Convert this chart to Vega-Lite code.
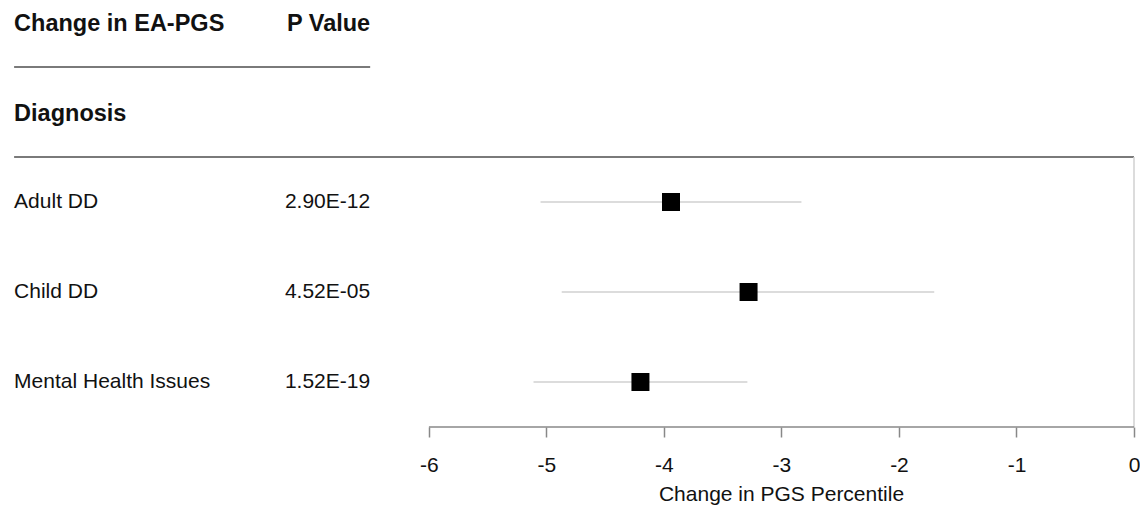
{
  "$schema": "https://vega.github.io/schema/vega-lite/v6.json",
  "width": 1134,
  "height": 427,
  "autosize": {"type": "none"},
  "padding": {"left": 0, "top": 0, "right": 6, "bottom": 104},
  "background": "white",
  "config": {"view": {"stroke": null}, "font": "Liberation Sans", "text": {"font": "Liberation Sans"}},
  "datasets": {
    "rows": [
      {"label": "Adult DD", "p": "2.90E-12", "est": -3.94, "lo": -5.05, "hi": -2.83},
      {"label": "Child DD", "p": "4.52E-05", "est": -3.28, "lo": -4.87, "hi": -1.70},
      {"label": "Mental Health Issues", "p": "1.52E-19", "est": -4.20, "lo": -5.11, "hi": -3.29}
    ],
    "head": [{"title": "Change in EA-PGS", "pcol": "P Value", "section": "Diagnosis"}]
  },
  "layer": [
    {
      "data": {"name": "rows"},
      "mark": {"type": "rule", "color": "#dcdcdc", "strokeWidth": 2},
      "encoding": {
        "x": {"field": "lo", "type": "quantitative", "scale": {"domain": [-9.65, 0], "nice": false, "zero": false},
          "axis": {"values": [-6, -5, -4, -3, -2, -1, 0], "domain": false, "grid": false, "tickColor": "#888888", "tickWidth": 1.5, "tickSize": 10,
            "labelFontSize": 21, "labelColor": "#111111", "labelPadding": 17, "labelFlush": false, "labelOverlap": false, "labelExpr": "'' + datum.value", "labelFont": "Liberation Sans",
            "title": "Change in PGS Percentile", "titleFontSize": 21, "titleFontWeight": "normal", "titleColor": "#111111", "titleFont": "Liberation Sans",
            "titleX": 781, "titleY": 56, "titleAlign": "center", "titleBaseline": "top", "titleAnchor": null}},
        "x2": {"field": "hi"},
        "y": {"field": "label", "type": "nominal", "scale": {"domain": ["Change in EA-PGS", "Diagnosis", "Adult DD", "Child DD", "Mental Health Issues"], "range": [-23, 427], "paddingInner": 0, "paddingOuter": 0}, "axis": null}
      }
    },
    {
      "data": {"name": "rows"},
      "mark": {"type": "point", "shape": "square", "filled": true, "color": "#000000", "opacity": 1, "size": 324},
      "encoding": {
        "x": {"field": "est", "type": "quantitative"},
        "y": {"field": "label", "type": "nominal", "axis": null}
      }
    },
    {
      "data": {"name": "rows"},
      "mark": {"type": "text", "align": "left", "baseline": "middle", "fontSize": 21, "color": "#111111"},
      "encoding": {
        "x": {"datum": -9.53, "type": "quantitative"},
        "y": {"field": "label", "type": "nominal", "axis": null},
        "text": {"field": "label"}
      }
    },
    {
      "data": {"name": "rows"},
      "mark": {"type": "text", "align": "right", "baseline": "middle", "fontSize": 21, "color": "#111111"},
      "encoding": {
        "x": {"datum": -6.5, "type": "quantitative"},
        "y": {"field": "label", "type": "nominal", "axis": null},
        "text": {"field": "p"}
      }
    },
    {
      "data": {"name": "head"},
      "mark": {"type": "text", "align": "left", "baseline": "middle", "fontSize": 23.5, "fontWeight": "bold", "color": "#111111", "dy": 1.5},
      "encoding": {
        "x": {"datum": -9.53, "type": "quantitative"},
        "y": {"datum": "Change in EA-PGS", "type": "nominal", "axis": null},
        "text": {"field": "title"}
      }
    },
    {
      "data": {"name": "head"},
      "mark": {"type": "text", "align": "right", "baseline": "middle", "fontSize": 23.5, "fontWeight": "bold", "color": "#111111", "dy": 1.5},
      "encoding": {
        "x": {"datum": -6.5, "type": "quantitative"},
        "y": {"datum": "Change in EA-PGS", "type": "nominal", "axis": null},
        "text": {"field": "pcol"}
      }
    },
    {
      "data": {"name": "head"},
      "mark": {"type": "text", "align": "left", "baseline": "middle", "fontSize": 23.5, "fontWeight": "bold", "color": "#111111", "dy": 1.5},
      "encoding": {
        "x": {"datum": -9.53, "type": "quantitative"},
        "y": {"field": "section", "type": "nominal", "axis": null},
        "text": {"field": "section"}
      }
    },
    {
      "data": {"name": "head"},
      "mark": {"type": "rule", "color": "#7a7a7a", "strokeWidth": 2},
      "encoding": {
        "x": {"datum": -9.53, "type": "quantitative"},
        "x2": {"datum": -6.5},
        "y": {"datum": "Change in EA-PGS", "type": "nominal", "bandPosition": 1, "axis": null}
      }
    },
    {
      "data": {"name": "head"},
      "mark": {"type": "rule", "color": "#7a7a7a", "strokeWidth": 2},
      "encoding": {
        "x": {"datum": -9.53, "type": "quantitative"},
        "x2": {"datum": 0},
        "y": {"datum": "Diagnosis", "type": "nominal", "bandPosition": 1, "axis": null}
      }
    },
    {
      "data": {"name": "head"},
      "mark": {"type": "rule", "color": "#d0d0d0", "strokeWidth": 1.5},
      "encoding": {
        "x": {"datum": 0, "type": "quantitative"},
        "y": {"datum": "Adult DD", "type": "nominal", "bandPosition": 0, "axis": null},
        "y2": {"datum": "Mental Health Issues", "bandPosition": 1}
      }
    },
    {
      "data": {"name": "head"},
      "mark": {"type": "rule", "color": "#888888", "strokeWidth": 1.5},
      "encoding": {
        "x": {"datum": -6, "type": "quantitative"},
        "x2": {"datum": 0},
        "y": {"datum": "Mental Health Issues", "type": "nominal", "bandPosition": 1, "axis": null}
      }
    }
  ]
}
